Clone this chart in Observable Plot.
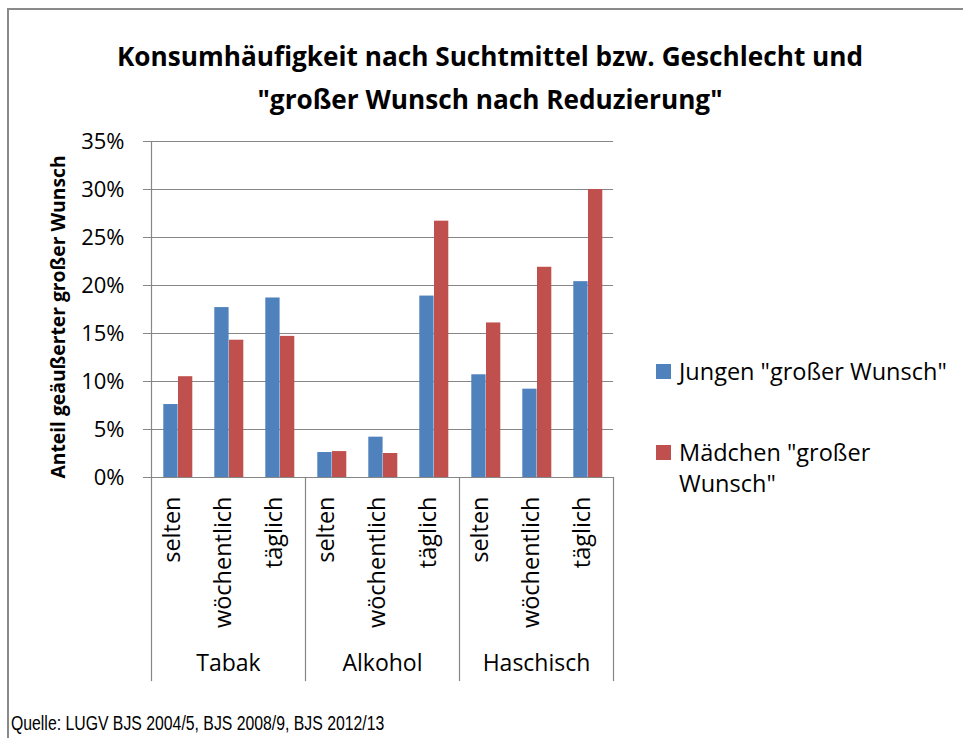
<!DOCTYPE html>
<html>
<head>
<meta charset="utf-8">
<script src="https://cdn.jsdelivr.net/npm/d3@7"></script>
<script src="https://cdn.jsdelivr.net/npm/@observablehq/plot@0.6"></script>
<style>
html, body { margin: 0; padding: 0; background: #fff; overflow: hidden; }
#wrap { position: relative; width: 963px; height: 738px; overflow: hidden; background: #fff; }
#border { position: absolute; left: 7px; top: 8px; width: 1200px; height: 1200px; border: 2px solid #8a8a8a; box-sizing: border-box; }
#chart { position: absolute; left: 0; top: 0; }
#title { position: absolute; left: 0; width: 980px; top: 35px; text-align: center; font-family: "Open Sans"; font-weight: bold; font-size: 26.2px; line-height: 43px; color: #000; }
#legend { position: absolute; left: 656px; top: 0; font-family: "Open Sans"; font-size: 23.5px; color: #000; }
.item { position: absolute; left: 0; display: flex; align-items: flex-start; width: 320px; }
.sw { width: 15px; height: 15px; flex: none; margin-top: 8px; margin-right: 8px; }
.lab { line-height: 31px; width: 282px; }
#caption { position: absolute; left: 11px; top: 712px; font-family: "Liberation Sans", Arial, sans-serif; font-size: 20px; color: #000; white-space: nowrap; transform: scaleX(0.79); transform-origin: 0 0; }
</style>
</head>
<body>
<div id="wrap">
  <div id="border"></div>
  <div id="chart"></div>
  <div id="title"></div>
  <div id="legend"></div>
  <div id="caption"></div>
</div>
<script>
// ---- data ----
const titleLines = ["Konsumhäufigkeit nach Suchtmittel bzw. Geschlecht und", "\"großer Wunsch nach Reduzierung\""];
const yLabel = "Anteil geäußerter großer Wunsch";
const source = "Quelle: LUGV BJS 2004/5, BJS 2008/9, BJS 2012/13";
const groups = ["Tabak", "Alkohol", "Haschisch"];
const frequencies = ["selten", "wöchentlich", "täglich"];
const series = ["Jungen \"großer Wunsch\"", "Mädchen \"großer Wunsch\""];
const jungen = [7.6, 17.7, 18.7, 2.6, 4.2, 18.9, 10.7, 9.2, 20.4];
const maedchen = [10.5, 14.3, 14.7, 2.7, 2.5, 26.7, 16.1, 21.9, 30.0];
const yTicks = [0, 5, 10, 15, 20, 25, 30, 35];
const colors = ["#4F81BD", "#C0504D"];

// ---- table ----
const cats = [];
groups.forEach(g => frequencies.forEach(f => cats.push({group: g, freq: f})));
const rowsJ = cats.map((c, i) => ({...c, series: series[0], value: jungen[i]}));
const rowsM = cats.map((c, i) => ({...c, series: series[1], value: maedchen[i]}));

const W = 963, H = 738;
const plotLeft = 150, plotRight = 613, plotTop = 141, plotBottom = 477, sepBottom = 680;
const grid = "#868686";

const chart = Plot.plot({
  width: W,
  height: H,
  marginLeft: plotLeft,
  marginRight: W - plotRight,
  marginTop: plotTop,
  marginBottom: H - plotBottom,
  style: {fontFamily: "Open Sans", fontSize: "22px", color: "#000", background: "transparent", overflow: "visible"},
  fx: {domain: groups, padding: 0, axis: null},
  x: {domain: frequencies, padding: 0, axis: null},
  y: {domain: [0, 35], axis: null},
  marks: [
    Plot.gridY(yTicks, {stroke: grid, strokeOpacity: 1, strokeWidth: 1.2, insetLeft: -8}),
    Plot.frame({anchor: "left", facetAnchor: "left", stroke: grid, strokeWidth: 1.2}),
    Plot.frame({anchor: "left", stroke: grid, strokeWidth: 1.2, insetTop: plotBottom - plotTop, insetBottom: -(sepBottom - plotBottom)}),
    Plot.frame({anchor: "right", facetAnchor: "right", stroke: grid, strokeWidth: 1.2, insetTop: plotBottom - plotTop, insetBottom: -(sepBottom - plotBottom)}),
    Plot.barY(rowsJ, {fx: "group", x: "freq", y: "value", fill: colors[0], insetLeft: 11.3, insetRight: 25.4}),
    Plot.barY(rowsM, {fx: "group", x: "freq", y: "value", fill: colors[1], insetLeft: 26, insetRight: 10.7}),
    Plot.axisY(yTicks, {tickSize: 0, tickPadding: 27, tickFormat: d => d + "%", label: null, fontSize: 22}),
    Plot.text(cats, {fx: "group", x: "freq", text: "freq", frameAnchor: "bottom", rotate: -90, textAnchor: "end", dx: 1.5, dy: 19, fontSize: 23.5}),
    Plot.text(groups, {fx: d => d, text: d => d, frameAnchor: "bottom", lineAnchor: "middle", dy: 186, fontSize: 23}),
    Plot.text([yLabel], {text: d => d, frameAnchor: "left", textAnchor: "middle", rotate: -90, dx: -92.5, dy: 7.5, fontWeight: "bold", fontSize: 19.3, facetAnchor: "left"})
  ]
});
document.getElementById("chart").append(chart);

document.getElementById("title").innerHTML = titleLines.map(t => `<div>${t}</div>`).join("");
document.getElementById("caption").textContent = source;

const legend = document.getElementById("legend");
series.forEach((s, i) => {
  const item = document.createElement("div");
  item.className = "item";
  item.style.top = (356 + i * 81) + "px";
  item.innerHTML = `<div class="sw" style="background:${colors[i]}"></div><div class="lab"></div>`;
  item.querySelector(".lab").textContent = s;
  legend.append(item);
});
</script>
</body>
</html>
